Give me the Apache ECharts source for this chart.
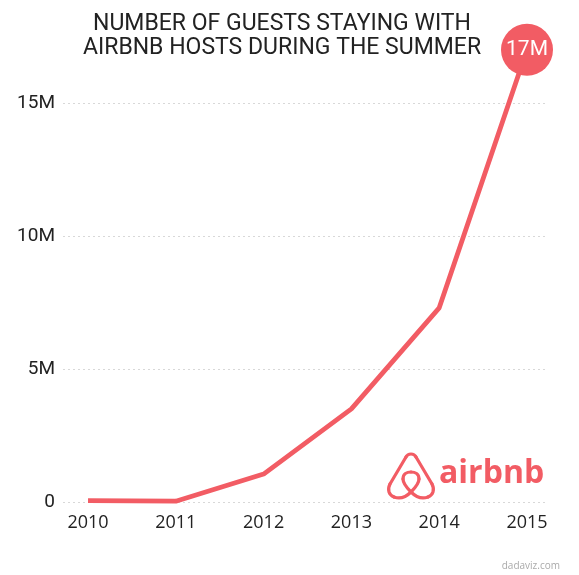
<!DOCTYPE html>
<html><head><meta charset="utf-8">
<script src="https://cdn.jsdelivr.net/npm/echarts@6/dist/echarts.min.js"></script>
<style>html,body{margin:0;padding:0;background:#fff}#c{width:579px;height:575px}</style>
</head><body><div id="c"></div>
<script>
var years = [2010, 2011, 2012, 2013, 2014, 2015];
var guests = [0.05, 0.03, 1.05, 3.5, 7.3, 17];
var yTicks = [0, 5, 10, 15];
var titleLines = ['NUMBER OF GUESTS STAYING WITH', 'AIRBNB HOSTS DURING THE SUMMER'];
var red = '#f25c64';

var data = years.map(function (y, i) {
  var d = { value: [y, guests[i]] };
  if (i === years.length - 1) {
    d.symbol = 'circle';
    d.symbolSize = 52;
    d.label = { show: true, position: 'inside', formatter: guests[i] + 'M', color: '#fff', fontSize: 21, fontFamily: 'Roboto' };
  }
  return d;
});

// logo outline segments (drawing geometry for the Belo mark)
var segs = [
  [24,40, 18,34, 16,31, 16,27], [16,27, 16,22, 20,20, 24,20], [24,20, 28,20, 32,22, 32,27],
  [32,27, 32,31, 30,34, 24,40], [24,40, 18,46, 12,47, 7,45], [7,45, 2,43, 0,38, 3,32],
  [3,32, 11,18.5, 11,18.5, 19,5], [19,5, 21,1, 27,1, 29,5], [29,5, 37,18.5, 37,18.5, 45,32],
  [45,32, 48,38, 46,43, 41,45], [41,45, 36,47, 30,46, 24,40]
];
var logoChildren = segs.map(function (s) {
  return { type: 'bezierCurve',
    shape: { x1: s[0], y1: s[1], cpx1: s[2], cpy1: s[3], cpx2: s[4], cpy2: s[5], x2: s[6], y2: s[7] },
    style: { stroke: red, lineWidth: 3.2, fill: null, lineCap: 'round' } };
});

var chart = echarts.init(document.getElementById('c'));
chart.setOption({
  animation: false,
  title: {
    text: titleLines.join('\n'), left: 277, top: 7, textAlign: 'center',
    textStyle: { fontFamily: 'Roboto', fontWeight: 'normal', fontSize: 23, lineHeight: 24, color: '#222' }
  },
  grid: { left: 63, right: 34, top: 103, bottom: 73 },
  xAxis: {
    type: 'value', min: 2009.715, max: 2015.205,
    axisLine: { show: false }, axisTick: { show: false }, splitLine: { show: false },
    axisLabel: { customValues: years, formatter: function (v) { return String(Math.round(v)); }, margin: 12, fontFamily: 'Open Sans', fontSize: 18, color: '#222' }
  },
  yAxis: {
    type: 'value', min: 0, max: 15, interval: 5,
    axisLine: { show: false }, axisTick: { show: false },
    splitLine: { lineStyle: { type: [2, 3], color: '#d8d8d8', width: 1 } },
    axisLabel: { formatter: function (v) { return v === 0 ? '0' : v + 'M'; }, margin: 8, fontFamily: 'Roboto', fontSize: 19, color: '#222' }
  },
  series: [{
    type: 'line', data: data, clip: false, showSymbol: true, symbol: 'none',
    lineStyle: { color: red, width: 4.8 }, itemStyle: { color: red }
  }],
  graphic: [
    { type: 'group', x: 387, y: 452, children: logoChildren },
    { type: 'text', x: 439, y: 474, style: { text: 'airbnb', fill: red, font: '700 32px "Open Sans"', textVerticalAlign: 'middle' } },
    { type: 'text', right: 19, bottom: 4, style: { text: 'dadaviz.com', fill: '#aaa', font: '10px "Open Sans"' } }
  ]
});
</script></body></html>
